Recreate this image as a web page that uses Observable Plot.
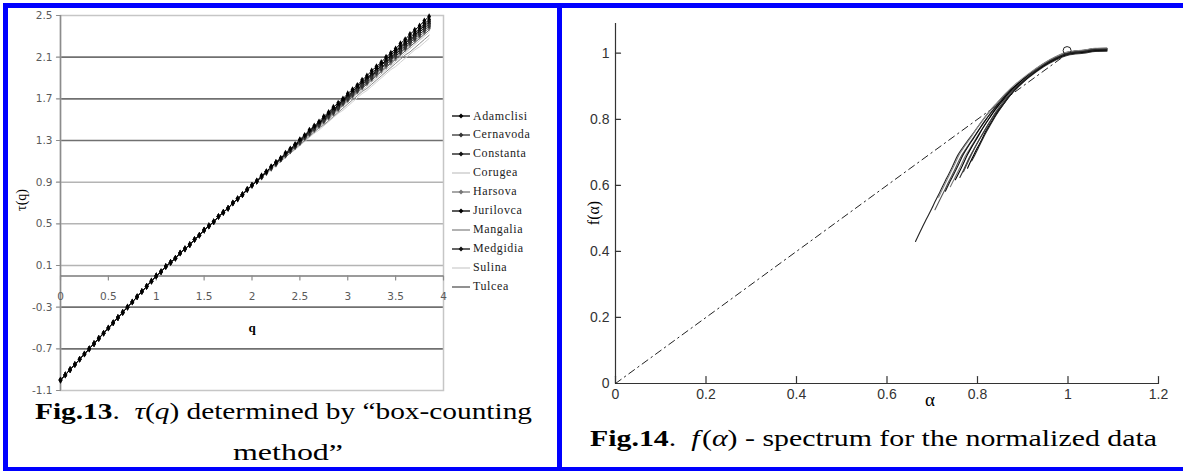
<!DOCTYPE html>
<html><head><meta charset="utf-8">
<script src="https://cdn.jsdelivr.net/npm/d3@7"></script>
<script src="https://cdn.jsdelivr.net/npm/@observablehq/plot@0.6"></script>
<style>
html,body{margin:0;padding:0;background:#fff;}
#page{position:relative;width:1183px;height:471px;overflow:hidden;background:#fff;}
.bar{position:absolute;background:#0000ff;}
.abs{position:absolute;white-space:nowrap;}
.serif{font-family:"Liberation Serif","Times New Roman",serif;color:#000;}
.legrow{position:absolute;left:0;height:18px;display:flex;align-items:center;white-space:nowrap;font-family:"Liberation Serif",serif;font-size:12px;letter-spacing:0.6px;color:#222;}
.legrow svg{margin-right:2px;}
</style></head>
<body><div id="page"></div>
<script>
// ---------------- DATA ----------------
const stations = ["Adamclisi","Cernavoda","Constanta","Corugea","Harsova","Jurilovca","Mangalia","Medgidia","Sulina","Tulcea"];

const qValues = [0,0.05,0.1,0.15,0.2,0.25,0.3,0.35,0.4,0.45,0.5,0.55,0.6,0.65,0.7,0.75,0.8,0.85,0.9,0.95,
 1,1.05,1.1,1.15,1.2,1.25,1.3,1.35,1.4,1.45,1.5,1.55,1.6,1.65,1.7,1.75,1.8,1.85,1.9,1.95,
 2,2.05,2.1,2.15,2.2,2.25,2.3,2.35,2.4,2.45,2.5,2.55,2.6,2.65,2.7,2.75,2.8,2.85,2.9,2.95,
 3,3.05,3.1,3.15,3.2,3.25,3.3,3.35,3.4,3.45,3.5,3.55,3.6,3.65,3.7,3.75,3.8,3.85];

const tauAdamclisi = [-1.00,-0.95,-0.90,-0.85,-0.80,-0.75,-0.70,-0.65,-0.60,-0.55,-0.50,-0.45,-0.40,-0.35,-0.30,-0.25,-0.20,-0.15,-0.10,-0.05,
 0.00,0.04,0.09,0.13,0.17,0.22,0.26,0.30,0.35,0.39,0.44,0.48,0.52,0.57,0.61,0.65,0.70,0.74,0.78,0.83,
 0.87,0.91,0.96,1.00,1.05,1.09,1.13,1.18,1.22,1.26,1.31,1.35,1.40,1.44,1.48,1.53,1.57,1.62,1.66,1.70,
 1.75,1.79,1.83,1.88,1.92,1.97,2.01,2.05,2.10,2.14,2.18,2.23,2.27,2.32,2.36,2.40,2.45,2.49];
const tauCernavoda = [-1.00,-0.95,-0.90,-0.85,-0.80,-0.75,-0.70,-0.65,-0.60,-0.55,-0.50,-0.45,-0.40,-0.35,-0.30,-0.25,-0.20,-0.15,-0.10,-0.05,
 0.00,0.04,0.09,0.13,0.17,0.22,0.26,0.30,0.35,0.39,0.44,0.48,0.52,0.57,0.61,0.65,0.70,0.74,0.78,0.83,
 0.87,0.91,0.95,0.99,1.04,1.08,1.12,1.16,1.20,1.24,1.28,1.33,1.37,1.41,1.45,1.49,1.53,1.57,1.61,1.66,
 1.70,1.74,1.78,1.82,1.86,1.90,1.95,1.99,2.03,2.07,2.11,2.15,2.19,2.24,2.28,2.32,2.36,2.40];
const tauConstanta = [-1.00,-0.95,-0.90,-0.85,-0.80,-0.75,-0.70,-0.65,-0.60,-0.55,-0.50,-0.45,-0.40,-0.35,-0.30,-0.25,-0.20,-0.15,-0.10,-0.05,
 0.00,0.04,0.09,0.13,0.17,0.22,0.26,0.30,0.35,0.39,0.44,0.48,0.52,0.57,0.61,0.65,0.70,0.74,0.78,0.83,
 0.87,0.91,0.95,1.00,1.04,1.08,1.12,1.17,1.21,1.25,1.30,1.34,1.38,1.42,1.46,1.51,1.55,1.59,1.63,1.68,
 1.72,1.76,1.80,1.85,1.89,1.93,1.97,2.02,2.06,2.10,2.14,2.19,2.23,2.27,2.31,2.36,2.40,2.44];
const tauCorugea = [-1.00,-0.95,-0.90,-0.85,-0.80,-0.75,-0.70,-0.65,-0.60,-0.55,-0.50,-0.45,-0.40,-0.35,-0.30,-0.25,-0.20,-0.15,-0.10,-0.05,
 0.00,0.04,0.09,0.13,0.17,0.22,0.26,0.30,0.35,0.39,0.44,0.48,0.52,0.57,0.61,0.65,0.70,0.74,0.78,0.83,
 0.87,0.91,0.95,0.99,1.03,1.07,1.11,1.15,1.19,1.23,1.27,1.31,1.35,1.39,1.43,1.47,1.51,1.55,1.59,1.63,
 1.67,1.71,1.75,1.78,1.82,1.86,1.90,1.94,1.98,2.02,2.06,2.10,2.14,2.18,2.22,2.26,2.30,2.34];
const tauHarsova = [-1.00,-0.95,-0.90,-0.85,-0.80,-0.75,-0.70,-0.65,-0.60,-0.55,-0.50,-0.45,-0.40,-0.35,-0.30,-0.25,-0.20,-0.15,-0.10,-0.05,
 0.00,0.04,0.09,0.13,0.17,0.22,0.26,0.30,0.35,0.39,0.44,0.48,0.52,0.57,0.61,0.65,0.70,0.74,0.78,0.83,
 0.87,0.91,0.95,0.99,1.03,1.07,1.12,1.16,1.20,1.24,1.28,1.32,1.36,1.40,1.44,1.48,1.52,1.56,1.60,1.65,
 1.69,1.73,1.77,1.81,1.85,1.89,1.93,1.97,2.01,2.05,2.09,2.14,2.18,2.22,2.26,2.30,2.34,2.38];
const tauJurilovca = [-1.00,-0.95,-0.90,-0.85,-0.80,-0.75,-0.70,-0.65,-0.60,-0.55,-0.50,-0.45,-0.40,-0.35,-0.30,-0.25,-0.20,-0.15,-0.10,-0.05,
 0.00,0.04,0.09,0.13,0.17,0.22,0.26,0.30,0.35,0.39,0.44,0.48,0.52,0.57,0.61,0.65,0.70,0.74,0.78,0.83,
 0.87,0.91,0.96,1.00,1.04,1.09,1.13,1.17,1.21,1.26,1.30,1.34,1.39,1.43,1.47,1.51,1.56,1.60,1.64,1.69,
 1.73,1.77,1.82,1.86,1.90,1.94,1.99,2.03,2.07,2.12,2.16,2.20,2.24,2.29,2.33,2.37,2.42,2.46];
const tauMangalia = [-1.00,-0.95,-0.90,-0.85,-0.80,-0.75,-0.70,-0.65,-0.60,-0.55,-0.50,-0.45,-0.40,-0.35,-0.30,-0.25,-0.20,-0.15,-0.10,-0.05,
 0.00,0.04,0.09,0.13,0.17,0.22,0.26,0.30,0.35,0.39,0.44,0.48,0.52,0.57,0.61,0.65,0.70,0.74,0.78,0.82,
 0.87,0.91,0.95,0.99,1.03,1.07,1.10,1.14,1.18,1.22,1.26,1.30,1.34,1.38,1.42,1.45,1.49,1.53,1.57,1.61,
 1.65,1.69,1.73,1.77,1.80,1.84,1.88,1.92,1.96,2.00,2.04,2.08,2.12,2.15,2.19,2.23,2.27,2.31];
const tauMedgidia = [-1.00,-0.95,-0.90,-0.85,-0.80,-0.75,-0.70,-0.65,-0.60,-0.55,-0.50,-0.45,-0.40,-0.35,-0.30,-0.25,-0.20,-0.15,-0.10,-0.05,
 0.00,0.04,0.09,0.13,0.17,0.22,0.26,0.30,0.35,0.39,0.44,0.48,0.52,0.57,0.61,0.65,0.70,0.74,0.78,0.83,
 0.87,0.91,0.95,1.00,1.04,1.08,1.12,1.16,1.21,1.25,1.29,1.33,1.37,1.42,1.46,1.50,1.54,1.58,1.62,1.67,
 1.71,1.75,1.79,1.83,1.88,1.92,1.96,2.00,2.04,2.09,2.13,2.17,2.21,2.25,2.30,2.34,2.38,2.42];
const tauSulina = [-1.00,-0.95,-0.90,-0.85,-0.80,-0.75,-0.70,-0.65,-0.60,-0.55,-0.50,-0.45,-0.40,-0.35,-0.30,-0.25,-0.20,-0.15,-0.10,-0.05,
 0.00,0.04,0.09,0.13,0.17,0.22,0.26,0.30,0.35,0.39,0.43,0.48,0.52,0.56,0.61,0.65,0.69,0.74,0.78,0.82,
 0.87,0.91,0.95,0.98,1.02,1.06,1.10,1.14,1.18,1.21,1.25,1.29,1.33,1.37,1.40,1.44,1.48,1.52,1.56,1.59,
 1.63,1.67,1.71,1.75,1.78,1.82,1.86,1.90,1.94,1.98,2.01,2.05,2.09,2.13,2.17,2.20,2.24,2.28];
const tauTulcea = [-1.00,-0.95,-0.90,-0.85,-0.80,-0.75,-0.70,-0.65,-0.60,-0.55,-0.50,-0.45,-0.40,-0.35,-0.30,-0.25,-0.20,-0.15,-0.10,-0.05,
 0.00,0.04,0.09,0.13,0.17,0.22,0.26,0.30,0.35,0.39,0.44,0.48,0.52,0.57,0.61,0.65,0.70,0.74,0.78,0.83,
 0.87,0.91,0.95,0.99,1.03,1.07,1.11,1.15,1.19,1.23,1.27,1.31,1.35,1.39,1.43,1.47,1.51,1.55,1.59,1.64,
 1.68,1.72,1.76,1.80,1.84,1.88,1.92,1.96,2.00,2.04,2.08,2.12,2.16,2.20,2.24,2.28,2.32,2.36];

const tauTicks = [-1.1,-0.7,-0.3,0.1,0.5,0.9,1.3,1.7,2.1,2.5];
const gridDark = [-0.7,-0.3,1.3,1.7,2.1];
const gridLight = [0.1,0.5,0.9];
const qTicks = [0,0.5,1,1.5,2,2.5,3,3.5,4];

// f(alpha) spectrum curves (one per station)
const alphaAdamclisi = [1.086,1.060,1.035,1.000,0.972,0.946,0.911,0.882,0.862,0.844,0.828,0.813,0.795,0.781,0.768,0.756,0.744,0.735,0.729,0.717,0.706,0.699,0.688,0.677,0.663];
const fAdamclisi     = [1.012,1.011,1.006,1.000,0.985,0.965,0.932,0.900,0.877,0.850,0.826,0.800,0.766,0.740,0.715,0.690,0.655,0.630,0.614,0.580,0.550,0.530,0.500,0.470,0.430];
const alphaCernavoda = [1.086,1.060,1.035,1.000,0.972,0.946,0.912,0.883,0.865,0.847,0.832,0.817,0.800,0.787,0.775,0.763,0.751,0.742,0.736,0.724,0.713,0.706];
const fCernavoda     = [1.008,1.007,1.002,0.996,0.981,0.961,0.928,0.896,0.873,0.846,0.822,0.796,0.762,0.736,0.711,0.686,0.651,0.626,0.610,0.576,0.546,0.526];
const alphaConstanta = [1.086,1.060,1.035,1.000,0.972,0.946,0.912,0.884,0.866,0.849,0.834,0.820,0.803,0.791,0.779,0.768,0.756,0.747,0.741,0.729];
const fConstanta     = [1.014,1.013,1.008,1.002,0.987,0.967,0.934,0.902,0.879,0.852,0.828,0.802,0.768,0.742,0.717,0.692,0.657,0.632,0.616,0.582];
const alphaCorugea   = [1.086,1.060,1.035,1.000,0.972,0.946,0.913,0.885,0.868,0.851,0.837,0.823,0.807,0.795,0.784,0.773,0.761,0.752,0.746,0.740];
const fCorugea       = [1.010,1.009,1.004,0.998,0.983,0.963,0.930,0.898,0.875,0.848,0.824,0.798,0.764,0.738,0.713,0.688,0.653,0.628,0.612,0.596];
const alphaHarsova   = [1.086,1.060,1.035,1.000,0.972,0.946,0.913,0.886,0.869,0.853,0.839,0.826,0.810,0.799,0.788,0.778,0.766,0.757,0.751];
const fHarsova       = [1.015,1.014,1.009,1.003,0.988,0.968,0.935,0.903,0.880,0.853,0.829,0.803,0.769,0.743,0.718,0.693,0.658,0.633,0.617];
const alphaJurilovca = [1.086,1.060,1.035,1.000,0.972,0.946,0.913,0.887,0.870,0.855,0.841,0.828,0.813,0.802,0.792,0.782,0.770,0.761];
const fJurilovca     = [1.006,1.005,1.000,0.994,0.979,0.959,0.926,0.894,0.871,0.844,0.820,0.794,0.760,0.734,0.709,0.684,0.649,0.624];
const alphaMangalia  = [1.086,1.060,1.035,1.000,0.972,0.946,0.914,0.888,0.871,0.856,0.843,0.831,0.816,0.805,0.795,0.786,0.774,0.769];
const fMangalia      = [1.013,1.012,1.007,1.001,0.986,0.966,0.933,0.901,0.878,0.851,0.827,0.801,0.767,0.741,0.716,0.691,0.656,0.641];
const alphaMedgidia  = [1.086,1.060,1.035,1.000,0.972,0.946,0.914,0.888,0.873,0.858,0.845,0.833,0.818,0.809,0.799,0.790,0.778];
const fMedgidia      = [1.009,1.008,1.003,0.997,0.982,0.962,0.929,0.897,0.874,0.847,0.823,0.797,0.763,0.737,0.712,0.687,0.652];
const alphaSulina    = [1.086,1.060,1.035,1.000,0.972,0.946,0.911,0.882,0.864,0.846,0.830,0.815,0.797,0.785,0.772,0.760,0.748,0.739,0.733,0.721,0.714];
const fSulina        = [1.016,1.015,1.010,1.004,0.989,0.969,0.936,0.904,0.881,0.854,0.830,0.804,0.770,0.744,0.719,0.694,0.659,0.634,0.618,0.584,0.564];
const alphaTulcea    = [1.086,1.060,1.035,1.000,0.972,0.946,0.915,0.889,0.874,0.859,0.847,0.835,0.821,0.811,0.802,0.793,0.787];
const fTulcea        = [1.011,1.010,1.005,0.999,0.984,0.964,0.931,0.899,0.876,0.849,0.825,0.799,0.765,0.739,0.714,0.689,0.674];

const diagAlpha = [0, 1];
const diagF = [0, 1];
const markAlpha = [0.998];
const markF = [1.008];
const alphaTicks = [0,0.2,0.4,0.6,0.8,1,1.2];
const fTicks = [0,0.2,0.4,0.6,0.8,1];

// ---------------- STYLES ----------------
const seriesStyle = {
  Adamclisi:{stroke:"#000",marker:true}, Cernavoda:{stroke:"#333",marker:true},
  Constanta:{stroke:"#111",marker:true}, Corugea:{stroke:"#c8c8c8",marker:false},
  Harsova:{stroke:"#777",marker:true}, Jurilovca:{stroke:"#000",marker:true},
  Mangalia:{stroke:"#888",marker:false}, Medgidia:{stroke:"#111",marker:true},
  Sulina:{stroke:"#d0d0d0",marker:false}, Tulcea:{stroke:"#555",marker:false}
};
const curveStroke = {Adamclisi:"#222",Cernavoda:"#555",Constanta:"#111",Corugea:"#777",Harsova:"#000",
  Jurilovca:"#333",Mangalia:"#444",Medgidia:"#000",Sulina:"#888",Tulcea:"#222"};

const tauBy = {Adamclisi:tauAdamclisi,Cernavoda:tauCernavoda,Constanta:tauConstanta,Corugea:tauCorugea,
  Harsova:tauHarsova,Jurilovca:tauJurilovca,Mangalia:tauMangalia,Medgidia:tauMedgidia,Sulina:tauSulina,Tulcea:tauTulcea};
const specBy = {Adamclisi:[alphaAdamclisi,fAdamclisi],Cernavoda:[alphaCernavoda,fCernavoda],Constanta:[alphaConstanta,fConstanta],
  Corugea:[alphaCorugea,fCorugea],Harsova:[alphaHarsova,fHarsova],Jurilovca:[alphaJurilovca,fJurilovca],
  Mangalia:[alphaMangalia,fMangalia],Medgidia:[alphaMedgidia,fMedgidia],Sulina:[alphaSulina,fSulina],Tulcea:[alphaTulcea,fTulcea]};

const tickShape = {draw(ctx, l){ ctx.moveTo(0,0); ctx.lineTo(0,-l); }};

const page = document.getElementById("page");
function add(html, css, cls){ const d=document.createElement("div"); d.className=cls||"abs"; d.style.cssText=css; d.innerHTML=html; page.appendChild(d); return d; }
function fitWidth(el, target){ const w = el.getBoundingClientRect().width; if (w>0){ el.style.transformOrigin="0 0"; el.style.transform=`scaleX(${target/w})`; } }

// ---------------- LEFT CHART ----------------
const seriesRows = {};
stations.forEach(s => { seriesRows[s] = tauBy[s].map((t,i)=>({station:s,q:qValues[i],tau:t})).filter(d=>d.q!==undefined); });

const leftMarks = [
  Plot.ruleY(gridLight, {stroke:"#b4b4b4", strokeWidth:1.5}),
  Plot.ruleY(gridDark, {stroke:"#707070", strokeWidth:1.6}),
  Plot.frame({stroke:"#c6c6c6", strokeWidth:1.5}),
  Plot.ruleX([0], {stroke:"#8c8c8c", strokeWidth:1.5}),
  Plot.ruleY([0], {stroke:"#7a7a7a", strokeWidth:1.5}),
  Plot.vector(tauTicks, {x:0, y:d=>d, length:4, rotate:-90, anchor:"start", shape:tickShape, stroke:"#8c8c8c", strokeWidth:1.2}),
  Plot.vector(qTicks, {x:d=>d, y:0, length:4, rotate:180, anchor:"start", shape:tickShape, stroke:"#8c8c8c", strokeWidth:1.2}),
  Plot.axisY({ticks:tauTicks, tickSize:0, tickPadding:8, tickFormat:d=>String(d), label:null, fill:"#5a5a5a"}),
  Plot.text(qTicks, {x:d=>d, y:0, dy:21, text:d=>String(d), fill:"#5a5a5a"})
];
[...stations].reverse().forEach(s => {
  leftMarks.push(Plot.line(seriesRows[s], {x:"q", y:"tau", stroke:seriesStyle[s].stroke, strokeWidth:1}));
});
[...stations].reverse().forEach(s => {
  if (seriesStyle[s].marker) leftMarks.push(Plot.dot(seriesRows[s], {x:"q", y:"tau", symbol:"diamond", r:2, fill:seriesStyle[s].stroke, stroke:"none"}));
});

const left = Plot.plot({
  width:556, height:400, marginLeft:60, marginRight:113, marginTop:15, marginBottom:10,
  x:{domain:[0,4], axis:null}, y:{domain:[-1.1,2.5], axis:null},
  style:{background:"transparent", fontFamily:"DejaVu Sans", fontSize:"10.5px", color:"#5a5a5a"},
  marks:leftMarks
});
left.style.position="absolute"; left.style.left="0px"; left.style.top="0px";
page.appendChild(left);

// legend
const leg = add("", "left:451px;top:107px;width:100px;height:200px;");
stations.forEach((s,i)=>{
  const st = seriesStyle[s];
  const row = document.createElement("div");
  row.className="legrow"; row.style.top = (i*18.95)+"px";
  row.innerHTML = `<svg width="20" height="18"><line x1="1" x2="19" y1="9" y2="9" stroke="${st.stroke}" stroke-width="1.3"/>${st.marker?`<path d="M10,6.6L12.4,9L10,11.4L7.6,9Z" fill="${st.stroke}"/>`:""}</svg><span>${s}</span>`;
  leg.appendChild(row);
});

// axis titles (left)
add("q", "left:252px;top:328px;transform:translate(-50%,-50%);font-size:13px;font-weight:bold;", "abs serif");
add("τ(q)", "left:22px;top:200px;transform:translate(-50%,-50%) rotate(-90deg);font-size:14px;", "abs serif");

// ---------------- RIGHT CHART ----------------
const rightMarks = [
  Plot.ruleX([0], {stroke:"#333", strokeWidth:1.2}),
  Plot.ruleY([0], {stroke:"#333", strokeWidth:1.2}),
  Plot.vector(alphaTicks, {x:d=>d, y:0, length:7, rotate:0, anchor:"start", shape:tickShape, stroke:"#333", strokeWidth:1.2}),
  Plot.vector(fTicks, {x:0, y:d=>d, length:5, rotate:90, anchor:"start", shape:tickShape, stroke:"#333", strokeWidth:1.2}),
  Plot.axisX({ticks:alphaTicks, tickSize:0, tickPadding:6, tickFormat:d=>String(d), label:null, fill:"#333"}),
  Plot.axisY({ticks:fTicks, tickSize:0, tickPadding:6, tickFormat:d=>String(d), label:null, fill:"#333"}),
  Plot.line(diagAlpha.map((a,i)=>({a, f:diagF[i]})), {x:"a", y:"f", stroke:"#222", strokeWidth:1, strokeDasharray:"7,4,1.5,4"})
];
stations.forEach(s => {
  const [A,F] = specBy[s];
  rightMarks.push(Plot.line(A.map((a,i)=>({a, f:F[i]})), {x:"a", y:"f", curve:"catmull-rom", stroke:curveStroke[s], strokeWidth:1.1}));
});
rightMarks.push(Plot.dot(markAlpha.map((a,i)=>({a, f:markF[i]})), {x:"a", y:"f", r:4, stroke:"#222", fill:"none", strokeWidth:1}));

const right = Plot.plot({
  width:620, height:420, marginLeft:53, marginRight:24, marginTop:23, marginBottom:37,
  x:{domain:[0,1.2], axis:null}, y:{domain:[0,1.09], axis:null},
  style:{background:"transparent", fontFamily:"Liberation Sans", fontSize:"14px", color:"#333"},
  marks:rightMarks
});
right.style.position="absolute"; right.style.left="562px"; right.style.top="0px";
page.appendChild(right);

add("α", "left:930px;top:400px;transform:translate(-50%,-50%);font-size:19px;", "abs serif");
add("f(α)", "left:594px;top:213px;transform:translate(-50%,-50%) rotate(-90deg);font-size:16px;", "abs serif");

// ---------------- CAPTIONS ----------------
const cap1 = add("<b>Fig.13</b>.&nbsp; <i>τ</i>(<i>q</i>) determined by “box-counting", "left:35px;top:399px;font-size:24px;line-height:24px;", "abs serif");
const cap2 = add("method”", "left:233px;top:440px;font-size:24px;line-height:24px;", "abs serif");
const cap3 = add("<b>Fig.14</b>.&nbsp; <i>f</i>&#8202;(<i>α</i>) - spectrum for the normalized data", "left:590px;top:427px;font-size:23px;line-height:23px;", "abs serif");
fitWidth(cap1, 497);
fitWidth(cap2, 110);
fitWidth(cap3, 567);

// ---------------- BLUE FRAME ----------------
add("", "left:3px;top:3px;width:1180px;height:4.5px;", "bar");
add("", "left:3px;top:466.5px;width:1180px;height:4.5px;", "bar");
add("", "left:3px;top:3px;width:5px;height:468px;", "bar");
add("", "left:557px;top:3px;width:5px;height:468px;", "bar");
</script>
</body></html>
